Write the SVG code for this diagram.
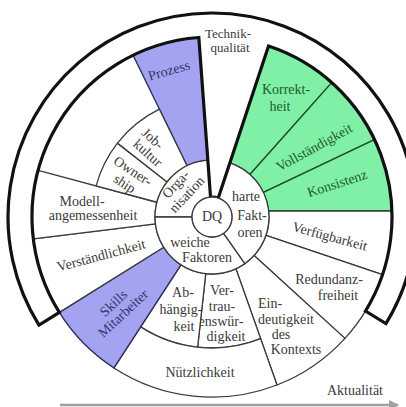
<svg xmlns="http://www.w3.org/2000/svg" width="406" height="407" viewBox="0 0 406 407">
<style>
.seg{fill:#fff;stroke:#3a3a3a;stroke-width:1.3;stroke-linejoin:round}
.pur{fill:#a3a3f2;stroke:#2e2e5c;stroke-width:1.4;stroke-linejoin:round}
.grn{fill:#80f0a6;stroke:#1f4f2c;stroke-width:1.4;stroke-linejoin:round}
.band{fill:#fff;stroke:#111;stroke-width:3.2;stroke-linejoin:miter}
text{font-family:"Liberation Serif","Times New Roman",serif;font-size:14px;fill:#3a3a3a;text-anchor:middle}
.tp{fill:#34346e}
.tg{fill:#1e5a30}
.axis{stroke:#a0a0a0;stroke-width:2.5;fill:none}
</style>
<defs>
<marker id="ah" viewBox="0 0 10 10" refX="9" refY="5" markerWidth="4" markerHeight="4" orient="auto" markerUnits="strokeWidth">
<path d="M0,0 L10,5 L0,10 Z" fill="#a0a0a0"/>
</marker>
</defs>
<rect width="406" height="407" fill="#fff"/>

<g id="connectors">
<line class="axis" x1="60" y1="405" x2="398" y2="405" marker-end="url(#ah)"/>
</g>

<g id="prozess">
<path class="pur" d="M187.01,165.77 L133.09,55.22 A180,180 0 0 1 198.82,37.48 L207.83,160.15 A57,57 0 0 0 187.01,165.77 Z"/>
<text class="tp" transform="translate(169,70) rotate(-16)" x="0" y="5">Prozess</text>
</g>
<g id="korrektheit">
<path class="grn" d="M229.90,162.88 L268.52,46.10 A180,180 0 0 1 331.74,82.60 L249.92,174.44 A57,57 0 0 0 229.90,162.88 Z"/>
<text class="tg" x="286" y="94">Korrekt-</text>
<text class="tg" x="280" y="111">heit</text>
</g>
<g id="vollstaendigkeit">
<path class="grn" d="M249.92,174.44 L331.74,82.60 A180,180 0 0 1 374.47,139.51 L263.45,192.46 A57,57 0 0 0 249.92,174.44 Z"/>
<text class="tg" transform="translate(314,147) rotate(-29)" x="0" y="5">Vollständigkeit</text>
</g>
<g id="konsistenz">
<path class="grn" d="M263.45,192.46 L374.47,139.51 A180,180 0 0 1 391.9,211 L268.68,211 A57,57 0 0 0 263.45,192.46 Z"/>
<text class="tg" transform="translate(337,183) rotate(-18)" x="0" y="5">Konsistenz</text>
</g>
<g id="verfuegbarkeit">
<path class="seg" d="M268.68,211 L391.9,211 A180,180 0 0 1 382.50,274.71 L265.99,235.27 A57,57 0 0 0 268.68,211 Z"/>
<text transform="translate(330,236) rotate(15)" x="0" y="5">Verfügbarkeit</text>
</g>
<g id="redundanzfreiheit">
<path class="seg" d="M265.99,235.27 L382.50,274.71 A180,180 0 0 1 344.92,338.37 L254.09,255.44 A57,57 0 0 0 265.99,235.27 Z"/>
<text x="329" y="284">Redundanz-</text>
<text x="338" y="300">freiheit</text>
</g>
<g id="eindeutigkeit">
<path class="seg" d="M254.09,255.44 L344.92,338.37 A180,180 0 0 1 277,385 L236,269 A57,57 0 0 0 254.09,255.44 Z"/>
<text x="270" y="308">Ein-</text>
<text x="286" y="324">deutigkeit</text>
<text x="281" y="339">des</text>
<text x="296" y="354">Kontexts</text>
</g>
<g id="vertrauenswuerdigkeit">
<path class="seg" d="M236,269 L260.6,338.6 A131,131 0 0 1 197.63,347.21 L205.75,273.66 A57,57 0 0 0 236,269 Z"/>
<text x="222" y="295">Ver-</text>
<text x="222" y="311">trau-</text>
<text x="221" y="326">enswür-</text>
<text x="226" y="341">digkeit</text>
</g>
<g id="abhaengigkeit">
<path class="seg" d="M205.75,273.66 L197.63,347.21 A131,131 0 0 1 140.65,326.87 L180.96,264.80 A57,57 0 0 0 205.75,273.66 Z"/>
<text x="183" y="297">Ab-</text>
<text x="181" y="314">hängig-</text>
<text x="184" y="331">keit</text>
</g>
<g id="nuetzlichkeit">
<path class="seg" d="M260.6,338.6 L277,385 A180,180 0 0 1 113.96,367.96 L140.65,326.87 A131,131 0 0 0 260.6,338.6 Z"/>
<text x="200" y="377">Nützlichkeit</text>
</g>
<g id="skills-mitarbeiter">
<path class="pur" d="M180.96,264.80 L113.96,367.96 A180,180 0 0 1 59.35,312.39 L163.66,247.21 A57,57 0 0 0 180.96,264.80 Z"/>
<g transform="translate(118,308) rotate(-43)">
<text class="tp" x="0" y="-2">Skills</text>
<text class="tp" x="0" y="12">Mitarbeiter</text>
</g>
</g>
<g id="verstaendlichkeit">
<path class="seg" d="M163.66,247.21 L59.35,312.39 A180,180 0 0 1 33.34,238.94 L155.42,223.95 A57,57 0 0 0 163.66,247.21 Z"/>
<text transform="translate(101,255) rotate(-15)" x="0" y="5">Verständlichkeit</text>
</g>
<g id="modellangemessenheit">
<path class="seg" d="M155.42,223.95 L33.34,238.94 A180,180 0 0 1 38.13,170.41 L156.94,202.25 A57,57 0 0 0 155.42,223.95 Z"/>
<text x="82" y="206">Modell-</text>
<text x="93" y="220">angemessenheit</text>
</g>
<g id="ownership">
<path class="seg" d="M156.94,202.25 L96.09,185.94 A120,120 0 0 1 117.44,143.12 L167.08,181.91 A57,57 0 0 0 156.94,202.25 Z"/>
<g transform="translate(129,177) rotate(33)">
<text x="0" y="-2.5">Owner-</text>
<text x="0" y="12.5">ship</text>
</g>
</g>
<g id="jobkultur">
<path class="seg" d="M167.08,181.91 L117.44,143.12 A120,120 0 0 1 159.40,109.15 L187.01,165.77 A57,57 0 0 0 167.08,181.91 Z"/>
<g transform="translate(150.5,145.5) rotate(42)">
<text x="-3" y="-2">Job-</text>
<text x="3" y="12">kultur</text>
</g>
</g>
<g id="organisation">
<path class="seg" d="M192,217 L155,217 A57,57 0 0 1 207.83,160.15 L210.54,197.05 A20,20 0 0 0 192,217 Z"/>
<g transform="translate(181,189) rotate(-47)">
<text x="0" y="-2.5">Orga-</text>
<text x="0" y="12.5">nisation</text>
</g>
</g>
<g id="harte-faktoren">
<path class="seg" d="M218.28,198.01 L229.90,162.88 A57,57 0 0 1 244.69,263.69 L223.47,233.38 A20,20 0 0 0 218.28,198.01 Z"/>
<text x="246" y="201">harte</text>
<text x="252" y="220">Fakt-</text>
<text x="250" y="237">oren</text>
</g>
<g id="weiche-faktoren">
<path class="seg" d="M223.47,233.38 L244.69,263.69 A57,57 0 0 1 155,217 L192,217 A20,20 0 0 0 223.47,233.38 Z"/>
<text x="190" y="247">weiche</text>
<text x="207" y="262">Faktoren</text>
</g>
<g id="technikqualitaet">
<path class="band" d="M39.00,325.10 A204,204 0 1 1 385.94,323.59 L365.48,311.05 A180,180 0 0 0 268.52,46.10 L218.28,198.01 A20,20 0 0 0 210.54,197.05 L198.82,37.48 A180,180 0 0 0 59.35,312.39 Z"/>
<text x="228" y="38" style="font-size:13px">Technik-</text>
<text x="230" y="52" style="font-size:13px">qualität</text>
</g>
<g id="dq">
<circle class="seg" cx="212" cy="217" r="20"/>
<text x="212" y="221">DQ</text>
</g>
<g id="aktualitaet">
<text x="355" y="395">Aktualität</text>
</g>
</svg>
